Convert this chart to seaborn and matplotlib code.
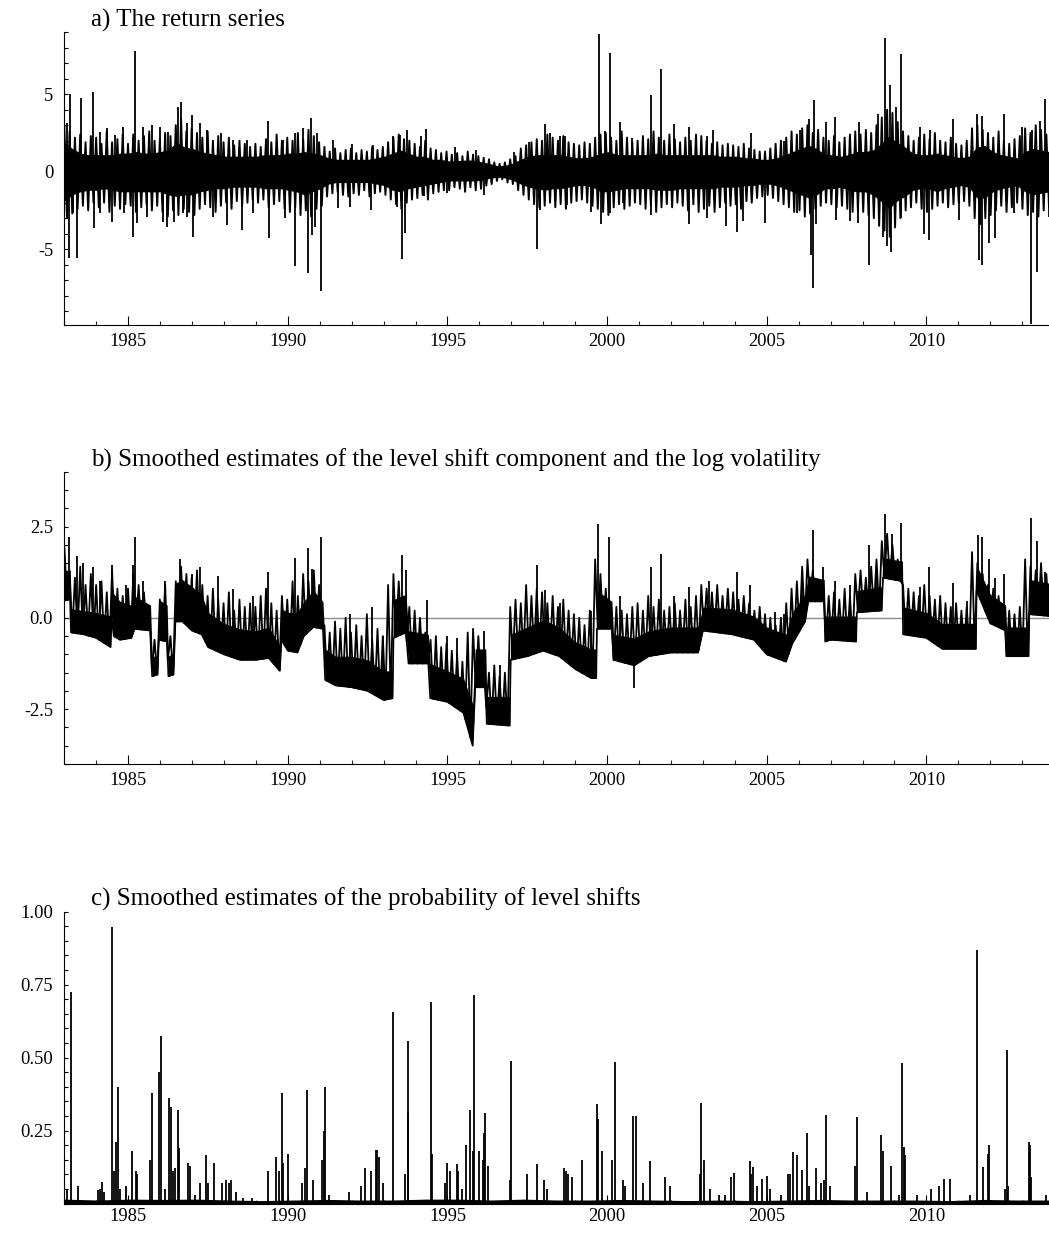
import numpy as np
import matplotlib
matplotlib.use("Agg")
import matplotlib.pyplot as plt
from matplotlib.ticker import MultipleLocator, FixedLocator
import seaborn as sns

sns.set_style("ticks")
plt.rcParams["font.family"] = ["Liberation Serif", "DejaVu Serif"]
plt.rcParams["axes.unicode_minus"] = False

X_START, X_END = 1983.0, 2013.84

# ---------------- a) returns
# quarterly range of the dense core
ret_core_hi = [1.9, 1.5, 1.2, 1.1, 1.1, 1.1, 1.1, 1.2, 1.2, 1.3, 1.2, 1.2,
               1.3, 1.4, 1.9, 1.6, 1.5, 1.3, 1.2, 1.1, 1.0, 1.0, 1.0, 1.0,
               1.0, 1.1, 1.1, 1.1, 1.2, 1.2, 1.3, 1.2, 1.1, 0.9, 0.8, 0.8,
               0.8, 0.8, 0.8, 0.9, 1.0, 1.2, 1.4, 1.2, 1.0, 1.0, 0.8, 0.8,
               0.7, 0.7, 0.75, 0.75, 0.65, 0.55, 0.4, 0.4, 0.55, 0.8, 1.0, 1.1,
               1.1, 1.1, 1.1, 1.0, 0.9, 0.9, 1.0, 1.2, 1.3, 1.1, 1.1, 1.1,
               1.1, 1.1, 1.2, 1.1, 1.1, 1.1, 1.1, 1.1, 1.1, 1.1, 1.0, 1.0,
               1.0, 0.9, 0.9, 0.8, 0.8, 0.9, 1.1, 1.3, 1.5, 1.7, 1.5, 1.1,
               1.1, 1.0, 1.1, 1.3, 1.3, 1.4, 1.8, 2.3, 1.9, 1.6, 1.2, 1.1,
               1.1, 1.2, 1.1, 1.0, 0.9, 1.0, 1.6, 1.7, 1.3, 1.1, 1.0, 0.9,
               1.3, 1.5, 1.4, 1.3]
ret_core_lo = [-1.9, -1.5, -1.3, -1.2, -1.2, -1.1, -1.2, -1.3, -1.3, -1.3, -1.3, -1.3,
               -1.3, -1.5, -1.6, -1.5, -1.5, -1.3, -1.2, -1.1, -1.1, -1.0, -1.0, -1.0,
               -1.0, -1.1, -1.1, -1.1, -1.2, -1.3, -1.5, -1.3, -1.1, -0.8, -0.7, -0.7,
               -0.7, -0.7, -0.7, -0.8, -0.9, -1.2, -1.3, -1.1, -1.0, -0.9, -0.8, -0.7,
               -0.6, -0.6, -0.6, -0.6, -0.55, -0.45, -0.35, -0.4, -0.55, -0.8, -1.0, -1.1,
               -1.2, -1.1, -1.1, -1.0, -0.9, -0.9, -1.0, -1.3, -1.3, -1.2, -1.1, -1.1,
               -1.1, -1.1, -1.2, -1.2, -1.2, -1.1, -1.1, -1.1, -1.1, -1.1, -1.0, -1.0,
               -1.0, -0.9, -0.9, -0.8, -0.8, -0.9, -1.1, -1.3, -1.5, -1.7, -1.5, -1.1,
               -1.1, -1.0, -1.2, -1.3, -1.3, -1.5, -1.9, -2.4, -1.9, -1.6, -1.2, -1.1,
               -1.1, -1.3, -1.1, -1.0, -0.9, -1.0, -1.7, -1.7, -1.3, -1.1, -1.0, -0.9,
               -1.3, -1.5, -1.4, -1.3]
# two-monthly highs and lows of the return series
ret_hi = [3.0, 2.6, 2.2, 2.4, 1.9, 2.3, 2.2, 1.8, 2.6, 1.9, 2.1, 2.4,
          1.8, 2.4, 2.0, 2.3, 2.6, 2.0, 2.1, 2.5, 2.3, 3.0, 3.4, 2.6,
          2.8, 2.5, 2.2, 2.6, 2.0, 2.3, 1.9, 2.2, 1.7, 2.0, 1.8, 1.6,
          1.8, 1.6, 2.1, 1.9, 2.4, 2.0, 2.2, 2.0, 2.5, 2.1, 2.7, 2.3,
          1.9, 1.6, 1.3, 1.5, 1.2, 1.4, 1.5, 1.2, 1.4, 1.3, 1.6, 1.4,
          1.6, 1.9, 2.2, 2.4, 2.1, 2.0, 1.8, 1.6, 2.0, 1.5, 1.4, 1.2,
          1.3, 1.1, 1.2, 1.0, 1.3, 1.1, 1.0, 0.9, 0.8, 0.6, 0.5, 0.6,
          0.8, 1.0, 1.5, 1.7, 1.9, 2.1, 2.0, 2.4, 2.2, 2.0, 2.3, 1.9,
          1.8, 1.7, 1.9, 1.8, 2.2, 2.4, 2.5, 2.2, 2.0, 2.6, 2.2, 1.9,
          2.0, 2.3, 2.1, 2.6, 2.2, 2.0, 2.4, 2.1, 1.9, 2.2, 2.0, 2.4,
          2.3, 2.0, 1.8, 1.9, 1.7, 1.8, 1.7, 1.6, 1.8, 1.5, 1.4, 1.3,
          1.3, 1.5, 1.8, 2.0, 2.2, 2.6, 2.4, 2.8, 3.0, 2.5, 2.7, 2.2,
          2.0, 2.3, 1.9, 2.2, 2.4, 2.6, 2.4, 2.7, 2.5, 3.0, 3.5, 4.0,
          3.8, 3.2, 2.6, 2.3, 2.0, 2.2, 2.4, 2.1, 2.5, 2.0, 1.9, 2.2,
          1.8, 1.7, 2.0, 2.8, 3.0, 2.7, 2.5, 2.2, 2.6, 2.0, 1.8, 2.1,
          2.3, 2.8, 2.5, 3.0, 2.7, 2.4]
ret_lo = [-3.0, -2.7, -2.4, -2.2, -2.5, -2.0, -2.3, -2.0, -2.6, -2.2, -2.4, -2.1,
          -2.2, -2.6, -2.3, -2.1, -2.5, -2.2, -2.6, -2.9, -2.5, -2.8, -2.4, -2.6,
          -2.8, -2.4, -2.1, -2.3, -2.6, -2.2, -2.0, -2.4, -1.9, -2.2, -2.0, -1.8,
          -2.0, -1.8, -2.3, -2.1, -1.9, -2.4, -2.6, -2.3, -2.8, -2.5, -2.9, -2.4,
          -2.2, -1.6, -1.4, -1.3, -1.5, -1.6, -1.4, -1.5, -1.2, -1.6, -1.4, -1.3,
          -1.5, -1.8, -2.1, -2.4, -2.0, -1.8, -1.7, -1.5, -1.8, -1.4, -1.3, -1.2,
          -1.2, -1.0, -1.1, -1.3, -1.0, -1.2, -1.1, -0.9, -0.8, -0.6, -0.5, -0.7,
          -0.8, -1.2, -1.5, -1.8, -2.1, -2.3, -2.2, -2.0, -2.3, -2.1, -2.4, -2.0,
          -1.9, -1.8, -2.0, -2.2, -2.4, -2.6, -2.8, -2.3, -2.1, -2.4, -2.2, -2.0,
          -2.1, -2.4, -2.2, -2.6, -2.3, -2.1, -2.3, -2.0, -2.2, -2.5, -2.1, -2.6,
          -2.4, -2.2, -2.6, -2.3, -2.0, -2.2, -2.1, -2.4, -1.9, -2.0, -1.7, -1.6,
          -1.5, -1.7, -1.9, -2.1, -2.3, -2.6, -2.5, -2.9, -2.7, -2.4, -2.2, -2.0,
          -2.1, -2.3, -2.2, -2.4, -2.6, -2.5, -2.6, -2.8, -3.0, -3.5, -3.8, -4.2,
          -3.6, -3.0, -2.5, -2.3, -2.0, -2.4, -2.6, -2.4, -2.2, -2.0, -2.3, -2.1,
          -2.0, -1.9, -2.2, -3.0, -3.4, -3.0, -2.8, -2.5, -2.2, -2.6, -2.3, -2.0,
          -2.4, -2.8, -2.6, -2.9, -2.5, -2.3]
# isolated large daily moves
ret_spike_year = [
    1983.10, 1983.18, 1983.51, 1983.91, 1984.12, 1984.33, 1984.59, 1984.85, 1985.14, 1985.21,
    1985.47, 1985.74, 1986.00, 1986.26, 1986.57, 1986.65, 1986.83, 1987.00, 1987.25, 1987.46,
    1987.90, 1988.29, 1988.71, 1989.39, 1989.86, 1990.23, 1990.49, 1990.72, 1990.91, 1991.43,
    1983.15, 1983.41, 1983.28, 1983.92, 1984.13, 1984.48, 1984.86, 1985.14, 1985.27, 1985.58,
    1986.10, 1986.23, 1986.44, 1986.73, 1986.83, 1987.02, 1987.67, 1988.09, 1988.56, 1988.92,
    1989.42, 1989.91, 1990.23, 1990.64, 1990.75, 1990.85, 1991.03, 1991.58,
    1992.02, 1992.68, 1993.31, 1993.50, 1993.73, 1994.16, 1994.34, 1995.24, 1995.90, 1997.07,
    1997.54, 1998.06, 1998.22, 1998.53, 1998.69, 1999.74, 1999.94, 2000.09, 2000.41, 2000.77,
    2001.14, 2001.38, 2001.69, 2002.08, 2002.58, 2003.12,
    1991.95, 1992.61, 1993.41, 1993.59, 1993.68, 1994.25, 1995.00, 1996.13, 1997.80, 1997.90,
    1998.74, 1999.49, 1999.80, 2000.09, 2000.51, 2001.38, 2002.55, 2003.12,
    2003.33, 2004.50, 2005.53, 2006.05, 2006.31, 2006.49, 2006.85, 2007.13, 2007.89, 2008.47,
    2008.71, 2008.87, 2009.04, 2009.20, 2009.81, 2010.12, 2010.83, 2011.58, 2011.74, 2012.42,
    2012.99, 2013.31, 2013.55, 2013.72,
    2003.73, 2004.06, 2004.27, 2004.93, 2005.94, 2006.39, 2006.44, 2006.55, 2007.18, 2007.61,
    2007.85, 2008.21, 2008.64, 2008.76, 2008.90, 2009.21, 2009.91, 2010.09, 2011.01, 2011.65,
    2011.74, 2011.95, 2012.16, 2012.73, 2013.27, 2013.46, 2013.83]
ret_spike_val = [
    3.12, 4.99, 4.77, 5.14, 2.58, 2.80, 2.37, 2.90, 2.15, 7.81,
    2.90, 3.01, 2.90, 2.58, 4.19, 4.52, 3.12, 3.66, 3.12, 2.69,
    2.47, 2.04, 2.04, 3.27, 2.04, 2.47, 2.80, 3.48, 2.52, 2.04,
    -5.59, -5.59, -2.69, -3.61, -2.69, -3.23, -2.69, -4.19, -3.33, -2.90,
    -3.23, -3.55, -3.23, -2.69, -2.90, -4.19, -2.90, -3.44, -3.76, -2.69,
    -4.30, -3.01, -6.06, -6.52, -4.09, -3.55, -7.68, -2.32,
    1.8, 1.7, 2.3, 2.4, 2.7, 2.3, 2.75, 1.6, 1.4, 1.3,
    1.9, 3.1, 2.5, 2.3, 2.3, 8.86, 2.6, 7.68, 3.2, 2.2,
    2.2, 4.95, 6.6, 3.1, 2.9, 2.3,
    -2.3, -2.5, -2.3, -5.66, -3.98, -1.6, -1.4, -1.5, -5.0, -2.5,
    -2.15, -2.6, -3.4, -2.7, -2.0, -2.8, -3.4, -3.0,
    2.7, 2.5, 2.0, 2.7, 3.4, 4.6, 3.2, 3.5, 3.2, 3.7,
    8.6, 5.6, 4.2, 7.6, 2.9, 2.7, 3.4, 3.7, 3.6, 3.7,
    2.9, 2.7, 3.3, 4.7,
    -3.5, -3.9, -3.2, -3.3, -2.7, -5.4, -7.5, -3.4, -3.1, -3.2,
    -3.3, -6.0, -4.2, -4.8, -5.2, -3.0, -4.0, -4.4, -3.1, -5.7,
    -6.0, -4.6, -4.3, -2.7, -9.85, -6.5, -2.9]

# ---------------- b) level shift component + log volatility
lv_year = [1983.00, 1983.18, 1983.21, 1983.60, 1984.00, 1984.45, 1984.48, 1984.55, 1984.75, 1985.10,
           1985.20, 1985.70, 1985.75, 1985.92, 1985.96, 1986.22, 1986.26, 1986.42, 1986.48, 1986.70,
           1987.00, 1987.30, 1987.50, 1988.00, 1988.50, 1989.00, 1989.40, 1989.75, 1989.80, 1990.00,
           1990.30, 1990.50, 1990.80, 1991.10, 1991.17, 1991.50, 1992.00, 1992.50, 1993.00, 1993.28,
           1993.31, 1993.70, 1993.78, 1994.40, 1994.46, 1995.00, 1995.50, 1995.79, 1995.87, 1996.20,
           1996.23, 1996.95, 1996.98, 1997.50, 1998.00, 1998.50, 1999.00, 1999.50, 1999.66, 1999.68,
           2000.15, 2000.20, 2000.85, 2001.30, 2002.00, 2002.85, 2003.00, 2003.90, 2004.60, 2005.00,
           2005.60, 2005.80, 2006.20, 2006.30, 2006.80, 2006.83, 2007.00, 2007.80, 2007.82, 2008.60,
           2008.64, 2009.25, 2009.27, 2010.00, 2010.50, 2011.55, 2011.57, 2012.00, 2012.48, 2012.51,
           2013.20, 2013.22, 2013.84]
lv_low = [0.5, 0.5, -0.4, -0.45, -0.55, -0.8, 0.0, -0.5, -0.6, -0.55,
          -0.3, -0.35, -1.6, -1.55, -0.6, -0.65, -1.6, -1.55, -0.1, -0.1,
          -0.35, -0.45, -0.8, -1.0, -1.15, -1.15, -1.1, -1.45, -0.6, -0.9,
          -0.95, -0.5, -0.25, -0.3, -1.7, -1.85, -1.9, -2.0, -2.25, -2.2,
          -0.55, -0.4, -1.25, -1.25, -2.2, -2.3, -2.6, -3.5, -1.9, -1.9,
          -2.9, -2.95, -1.15, -1.05, -0.9, -1.05, -1.4, -1.65, -1.65, -0.3,
          -0.3, -1.15, -1.3, -1.05, -0.95, -0.95, -0.35, -0.45, -0.6, -1.0,
          -1.2, -0.7, -0.1, 0.45, 0.45, -0.65, -0.6, -0.65, 0.15, 0.2,
          1.1, 1.0, -0.45, -0.55, -0.85, -0.85, 0.75, -0.15, -0.35, -1.05,
          -1.05, 0.1, 0.05]
lv_high = [1.3, 1.3, 0.25, 0.2, 0.15, 0.05, 1.0, 0.65, 0.45, 0.35,
           0.6, 0.35, -1.05, -1.05, 0.5, 0.35, -1.05, -0.95, 0.95, 1.05,
           0.85, 0.65, 0.15, -0.15, -0.3, -0.35, -0.25, -0.75, 0.25, 0.15,
           0.15, 0.45, 0.75, 0.45, -0.85, -1.05, -1.05, -1.15, -1.45, -1.45,
           0.5, 0.65, -0.35, -0.45, -1.25, -1.45, -1.65, -2.35, -0.85, -0.85,
           -2.15, -2.15, -0.45, -0.25, -0.05, -0.25, -0.65, -0.85, -0.85, 0.75,
           0.45, -0.45, -0.55, -0.35, -0.25, -0.25, 0.3, 0.25, 0.05, -0.25,
           -0.45, 0.15, 0.65, 1.15, 1.05, 0.05, 0.05, 0.05, 0.75, 0.85,
           1.65, 1.55, 0.3, 0.15, -0.15, -0.15, 1.45, 0.65, 0.35, -0.25,
           -0.25, 1.05, 0.95]
# two-monthly peaks of the log volatility above the level
lv_peak = [2.0, 1.3, 1.1, 1.4, 0.9, 1.2, 0.9, 1.0, 0.7, 1.3, 0.8, 0.6,
           0.8, 1.2, 0.9, 0.7, 0.3, -0.6, 0.5, 0.9, -0.5, 1.0, 1.4, 1.2,
           1.1, 1.3, 0.9, 0.6, 0.8, 0.5, 0.4, 0.7, 0.2, 0.5, 0.3, 0.4,
           0.3, 0.6, 0.8, 0.4, 0.2, 0.6, 0.5, 1.0, 0.6, 1.2, 1.0, 1.3,
           0.9, -0.2, -0.4, -0.1, -0.3, 0.0, -0.4, -0.2, -0.5, 0.1, -0.6, -0.3,
           -0.5, 0.9, 1.2, 1.0, 0.4, 0.3, 0.2, 0.0, -0.4, -0.6, -0.5, -0.8,
           -0.7, -0.9, -1.0, -1.2, -0.4, -0.3, -0.5, -1.4, -1.5, -1.3, -1.6, -1.5,
           0.3, 0.5, 0.4, 0.9, 0.6, 0.8, 0.7, 0.4, 0.6, 0.3, 0.5, 0.2,
           0.1, 0.0, -0.2, 0.2, 1.6, 1.2, 0.8, 0.1, 0.3, 0.2, 0.1, 0.3,
           0.4, 0.2, 0.6, 0.3, 0.5, 0.2, 0.3, 0.4, 0.2, 0.5, 0.3, 0.6,
           0.9, 0.8, 0.7, 0.9, 0.6, 0.8, 0.7, 0.5, 0.6, 0.4, 0.2, 0.3,
           0.1, 0.0, -0.2, 0.0, 0.4, 0.8, 1.0, 1.4, 1.6, 1.3, 1.0, 0.7,
           0.6, 0.7, 0.5, 0.8, 0.6, 1.2, 1.3, 1.1, 1.4, 1.6, 2.1, 2.3,
           2.0, 1.6, 0.9, 0.8, 0.7, 0.6, 0.9, 0.6, 0.5, 0.6, 0.4, 0.3,
           0.4, 0.2, 0.3, 1.8, 1.5, 1.2, 0.9, 0.8, 0.6, 0.3, 0.2, 0.1,
           0.3, 1.6, 1.4, 1.3, 1.5, 1.2]
lv_spike_year = [1983.16, 1983.41, 1983.60, 1983.91, 1984.12, 1984.48, 1984.93, 1985.14, 1985.21, 1985.47,
                 1986.15, 1986.62, 1986.99, 1987.25, 1987.82, 1988.29, 1988.92, 1989.39, 1990.23, 1990.64,
                 1990.75, 1991.03, 1991.95, 1992.63, 1992.99, 1993.59, 1993.69, 1994.35, 1994.98, 1995.29,
                 1996.13, 1996.65, 1997.80, 1998.06, 1998.53, 1999.49, 1999.73, 2000.07, 2000.41, 2000.85,
                 2001.37, 2001.69, 2002.08, 2002.55, 2003.18, 2004.06, 2004.48, 2005.27, 2005.53, 2006.10,
                 2006.45, 2006.76, 2007.14, 2007.61, 2008.19, 2008.45, 2008.71, 2008.92, 2009.20, 2009.81,
                 2010.08, 2010.83, 2011.27, 2011.63, 2011.74, 2011.95, 2012.16, 2012.44, 2012.73, 2013.27,
                 2013.46, 2013.72]
lv_spike_val = [2.2, 1.7, 1.5, 1.4, 1.0, 1.45, 0.9, 1.45, 2.2, 1.0,
                1.0, 1.6, 1.2, 1.4, 1.15, 0.8, 0.6, 1.25, 1.65, 1.9,
                1.35, 2.2, 0.1, 0.3, -0.5, 1.73, 1.3, 0.5, -0.5, -0.55,
                -0.35, -1.3, 1.44, 0.76, 0.4, 0.2, 2.58, 2.2, 0.6, -1.93,
                1.39, 1.76, 0.6, 0.85, 1.0, 1.26, 0.9, 0.15, 0.1, 1.25,
                2.4, 1.4, 1.0, 0.9, 2.0, 1.35, 2.85, 2.3, 2.6, 0.85,
                1.39, 0.95, 0.45, 2.28, 2.2, 1.6, 1.1, 1.2, 0.0, 2.72,
                2.1, 1.25]

# ---------------- c) probability of a level shift
prob_floor = [0.015, 0.012, 0.015, 0.014, 0.015, 0.012, 0.010, 0.012, 0.014, 0.012,
              0.012, 0.015, 0.015, 0.012, 0.015, 0.012, 0.012, 0.014, 0.012, 0.010,
              0.012, 0.010, 0.012, 0.014, 0.012, 0.012, 0.012, 0.010, 0.014, 0.012, 0.012]
prob_year = [
    1983.10, 1983.20, 1983.44, 1984.05, 1984.12, 1984.17, 1984.25, 1984.48, 1984.57, 1984.62,
    1984.67, 1984.74, 1984.93, 1985.11, 1985.25, 1985.29, 1985.68, 1985.74, 1985.98, 1986.02,
    1986.15, 1986.28, 1986.33, 1986.41, 1986.48, 1986.55, 1986.59, 1986.88, 1986.94, 1987.09,
    1987.25, 1987.44, 1987.51, 1987.70, 1987.93, 1988.05, 1988.15, 1988.22, 1988.37, 1988.61,
    1988.87, 1989.39, 1989.62, 1989.71, 1989.81, 1989.86, 1990.02, 1990.44, 1990.54, 1990.59,
    1990.78, 1991.06, 1991.14, 1991.17, 1991.29, 1991.92,
    1992.28, 1992.42, 1992.60, 1992.76, 1992.80, 1992.86, 1992.97, 1993.29, 1993.67, 1993.76,
    1993.78, 1994.49, 1994.52, 1994.93, 1994.98, 1995.08, 1995.29, 1995.34, 1995.45, 1995.58,
    1995.71, 1995.79, 1995.83, 1995.99, 1996.10, 1996.16, 1996.19, 1996.26, 1996.96, 1996.99,
    1997.48, 1997.80, 1998.01, 1998.13, 1998.64, 1998.70, 1998.76, 1998.90, 1999.21, 1999.68,
    1999.70, 1999.85, 2000.15, 2000.25, 2000.51, 2000.57, 2000.81, 2000.89, 2001.12, 2001.35,
    2001.82, 2001.98, 2002.92, 2002.95,
    2003.02, 2003.23, 2003.50, 2003.70, 2003.88, 2003.98, 2004.46, 2004.50, 2004.57, 2004.71,
    2004.85, 2005.00, 2005.09, 2005.45, 2005.67, 2005.74, 2005.82, 2005.94, 2006.10, 2006.26,
    2006.31, 2006.55, 2006.71, 2006.80, 2006.86, 2006.99, 2007.77, 2007.84, 2008.14, 2008.59,
    2008.64, 2008.89, 2009.15, 2009.25, 2009.29, 2009.32, 2009.70, 2010.15, 2010.39, 2010.54,
    2010.75, 2011.37, 2011.58, 2011.76, 2011.93, 2011.96, 2012.47, 2012.52, 2012.57, 2013.22,
    2013.25, 2013.27, 2013.74]
prob_val = [
    0.05, 0.725, 0.06, 0.045, 0.05, 0.073, 0.04, 0.947, 0.11, 0.21,
    0.40, 0.05, 0.06, 0.18, 0.11, 0.10, 0.15, 0.38, 0.45, 0.575,
    0.05, 0.36, 0.33, 0.11, 0.12, 0.32, 0.19, 0.14, 0.13, 0.03,
    0.07, 0.165, 0.07, 0.14, 0.07, 0.08, 0.07, 0.08, 0.04, 0.02,
    0.02, 0.11, 0.16, 0.11, 0.38, 0.14, 0.17, 0.07, 0.12, 0.39,
    0.08, 0.15, 0.25, 0.40, 0.03, 0.04,
    0.06, 0.12, 0.11, 0.185, 0.185, 0.16, 0.07, 0.655, 0.10, 0.557,
    0.31, 0.692, 0.17, 0.07, 0.14, 0.11, 0.135, 0.11, 0.05, 0.20,
    0.32, 0.18, 0.715, 0.18, 0.15, 0.24, 0.31, 0.13, 0.08, 0.49,
    0.10, 0.135, 0.08, 0.05, 0.12, 0.11, 0.10, 0.09, 0.15, 0.34,
    0.29, 0.18, 0.15, 0.485, 0.08, 0.06, 0.30, 0.30, 0.07, 0.145,
    0.09, 0.06, 0.10, 0.345,
    0.15, 0.05, 0.03, 0.03, 0.09, 0.105, 0.145, 0.10, 0.125, 0.06,
    0.085, 0.095, 0.05, 0.03, 0.10, 0.10, 0.175, 0.165, 0.115, 0.24,
    0.06, 0.12, 0.07, 0.08, 0.305, 0.06, 0.13, 0.295, 0.04, 0.235,
    0.18, 0.13, 0.03, 0.48, 0.195, 0.165, 0.03, 0.05, 0.06, 0.085,
    0.085, 0.03, 0.87, 0.125, 0.17, 0.20, 0.05, 0.525, 0.06, 0.21,
    0.20, 0.09, 0.03]

W, H = 1049, 1233
fig = plt.figure(figsize=(W / 100, H / 100), dpi=100)


def px_axes(top, bottom, left=64.3, right=1049.0):
    return fig.add_axes([left / W, 1 - bottom / H, (right - left) / W, (bottom - top) / H])


def style_axis(ax, ylim, ymajor, yminor, ylabels, xpad=5.5):
    ax.set_xlim(X_START, X_END)
    ax.set_ylim(*ylim)
    ax.xaxis.set_major_locator(MultipleLocator(5))
    ax.xaxis.set_minor_locator(MultipleLocator(1))
    ax.yaxis.set_major_locator(FixedLocator(ymajor))
    ax.yaxis.set_minor_locator(MultipleLocator(yminor))
    ax.set_yticklabels(ylabels)
    for s in ("top", "right"):
        ax.spines[s].set_visible(False)
    for s in ("left", "bottom"):
        ax.spines[s].set_linewidth(0.8)
        ax.spines[s].set_color("black")
    ax.tick_params(axis="x", which="major", direction="in", length=6.5, width=0.8,
                   labelsize=13.3, pad=xpad, colors="black")
    ax.tick_params(axis="x", which="minor", direction="in", length=3.0, width=0.8)
    ax.tick_params(axis="y", which="both", direction="in", length=3.0, width=0.8,
                   labelsize=13.3, pad=8, colors="black")
    ax.set_xlabel("")
    ax.set_ylabel("")


def zigzag(t, upper, lower):
    """Alternate between the high and low of each period, as a dense series does."""
    t = np.asarray(t)
    half = (t[1] - t[0]) / 2
    xs = np.column_stack([t, t + half]).ravel()
    ys = np.column_stack([upper, lower]).ravel()
    return xs, ys


# a) return series
ax1 = px_axes(32.3, 325.0)
q_year = np.linspace(X_START, X_END, len(ret_core_hi))
ax1.fill_between(q_year, ret_core_lo, ret_core_hi, color="black", lw=0)
m_year = np.linspace(X_START, X_END - (X_END - X_START) / len(ret_hi) / 2, len(ret_hi))
zx, zy = zigzag(m_year, ret_hi, ret_lo)
sns.lineplot(x=zx, y=zy, ax=ax1, color="black", lw=1.4, sort=False, estimator=None)
ax1.vlines(ret_spike_year, 0, ret_spike_val, color="black", lw=1.3)
style_axis(ax1, (-9.9, 9.0), [-5, 0, 5], 1, ["-5", "0", "5"])

# b) level shift component and log volatility
ax2 = px_axes(471.7, 764.0)
ax2.axhline(0, color="#8c8c8c", lw=1.0, zorder=0)
ax2.fill_between(lv_year, lv_low, lv_high, color="black", lw=0)
sns.lineplot(x=lv_year, y=lv_low, ax=ax2, color="black", lw=1.2, sort=False, estimator=None)
p_year = np.linspace(X_START, X_END - (X_END - X_START) / len(lv_peak) / 2, len(lv_peak))
px_, py_ = zigzag(p_year, lv_peak, np.zeros(len(lv_peak)))
# each swing rises from the level component to its two-monthly peak and falls back
lvl = np.interp(px_, lv_year, lv_low)
py_[1::2] = lvl[1::2]
py_[0::2] = np.maximum(py_[0::2], lvl[0::2])
sns.lineplot(x=px_, y=py_, ax=ax2, color="black", lw=1.3, sort=False, estimator=None)
sy = np.array(lv_spike_year)
sv = np.array(lv_spike_val)
base_lo = np.interp(sy, lv_year, lv_low)
ax2.vlines(sy, np.minimum(sv, base_lo), np.maximum(sv, base_lo), color="black", lw=1.3)
style_axis(ax2, (-4.0, 4.0), [-2.5, 0, 2.5], 0.5, ["-2.5", "0.0", "2.5"])

# c) probability of level shifts
ax3 = px_axes(911.7, 1203.5)
f_year = np.linspace(X_START, X_END, len(prob_floor))
ax3.fill_between(f_year, 0, prob_floor, color="black", lw=0)
ax3.vlines(prob_year, 0, prob_val, color="black", lw=1.3)
style_axis(ax3, (0.0, 1.0), [0.25, 0.5, 0.75, 1.0], 0.05,
           ["0.25", "0.50", "0.75", "1.00"], xpad=3)

title_kw = dict(fontsize=18, color="black", ha="left", va="baseline")
fig.text(91 / W, 1 - 26.7 / H, "a) The return series", **title_kw)
fig.text(91 / W, 1 - 466.5 / H, "b) Smoothed estimates of the level shift component and the log volatility", **title_kw)
fig.text(91 / W, 1 - 906 / H, "c) Smoothed estimates of the probability of level shifts", **title_kw)

fig.savefig("out.png", dpi=100, facecolor="white")
